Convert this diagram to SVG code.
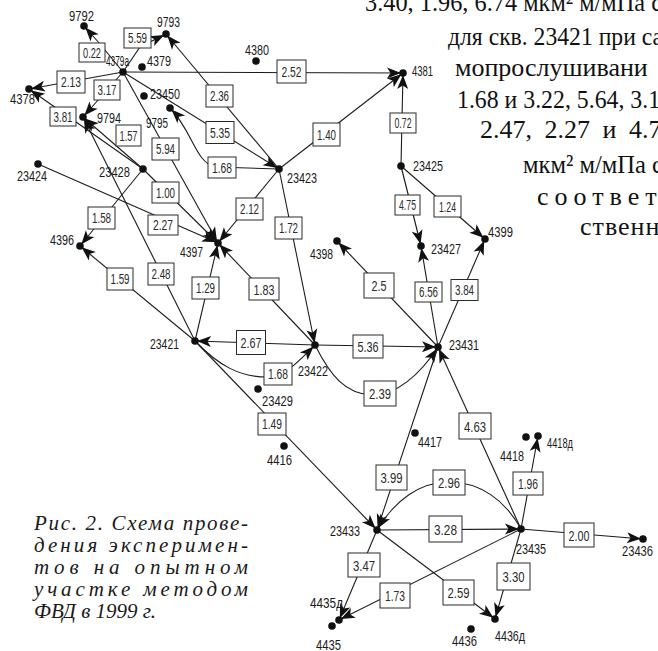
<svg xmlns="http://www.w3.org/2000/svg" width="658" height="651" viewBox="0 0 658 651">
<defs>
<style>
.e{fill:none;stroke:#1c1c1c;stroke-width:1.1;marker-end:url(#ah)}
.b rect{fill:#fff;stroke:#2a2a2a;stroke-width:1}
.b text{font-family:"Liberation Sans",Arial,sans-serif;font-size:14px;fill:#2a2a2a;text-anchor:middle}
.b .L{font-size:15px}
.n circle{fill:#111}
.n text{font-family:"Liberation Sans",Arial,sans-serif;font-size:15px;fill:#1a1a1a}
.t{font-family:"Liberation Serif","Times New Roman",serif;font-size:26px;fill:#111}
.c{font-family:"Liberation Serif","Times New Roman",serif;font-style:italic;font-size:21px;fill:#1a1a1a}
</style>
<marker id="ah" viewBox="0 0 17 12" refX="17" refY="6" markerWidth="17" markerHeight="12" markerUnits="userSpaceOnUse" orient="auto"><path d="M1,0.5 L15,6 L1,11.5 L4.5,6 z" fill="#111"/></marker>
</defs>
<rect width="658" height="651" fill="#fff"/>

<g id="article-text">
<text class="t" x="365" y="11" textLength="297" lengthAdjust="spacingAndGlyphs">3.40, 1.96, 6.74 мкм² м/мПа с</text>
<text class="t" x="448" y="45" textLength="215" lengthAdjust="spacingAndGlyphs">для скв. 23421 при са</text>
<text class="t" x="455" y="76">мопрослушивани</text>
<text class="t" x="457" y="108" textLength="215" lengthAdjust="spacingAndGlyphs">1.68 и 3.22, 5.64, 3.17</text>
<text class="t" x="480" y="138" word-spacing="6">2.47, 2.27 и 4.7</text>
<text class="t" x="523" y="173" textLength="140" lengthAdjust="spacingAndGlyphs">мкм² м/мПа с</text>
<text class="t" x="537" y="205" letter-spacing="6">соответ</text>
<text class="t" x="580" y="235" letter-spacing="1">ственно</text>
</g>

<g id="caption">
<text class="c" x="34" y="530" textLength="214" lengthAdjust="spacing">Рис. 2. Схема прове-</text>
<text class="c" x="34" y="552" textLength="214" lengthAdjust="spacing">дения эксперимен-</text>
<text class="c" x="34" y="574" textLength="214" lengthAdjust="spacing">тов на опытном</text>
<text class="c" x="34" y="596" textLength="214" lengthAdjust="spacing">участке методом</text>
<text class="c" x="34" y="618">ФВД в 1999 г.</text>
</g>

<g id="connectors">
<path class="e" d="M123,72 L100,44 L84,26"/>
<path class="e" d="M123,72 L140,47 L166,34"/>
<path class="e" d="M123,72 L29,89"/>
<path class="e" d="M123,72 L83,117"/>
<path class="e" d="M123,72 L403,73"/>
<path class="e" d="M123,72 L218,243"/>
<path class="e" d="M123,72 L279,169"/>
<path class="e" d="M279,169 L166,34"/>
<path class="e" d="M279,169 L215,167 C195,162 192,130 170,108"/>
<path class="e" d="M279,169 L403,73"/>
<path class="e" d="M279,169 L218,243"/>
<path class="e" d="M279,169 L315,345"/>
<path class="e" d="M143,169 L29,89"/>
<path class="e" d="M143,169 L83,117"/>
<path class="e" d="M143,169 L218,243"/>
<path class="e" d="M143,169 L80,246"/>
<path class="e" d="M38,164 L218,243"/>
<path class="e" d="M195,341 L80,246"/>
<path class="e" d="M195,341 L83,117"/>
<path class="e" d="M195,341 L218,243"/>
<path class="e" d="M315,345 L218,243"/>
<path class="e" d="M315,345 L195,341"/>
<path class="e" d="M195,341 C218,365 240,378 270,377 C285,376 300,360 315,345"/>
<path class="e" d="M195,341 L377,530"/>
<path class="e" d="M315,345 L438,347"/>
<path class="e" d="M315,345 C330,375 345,394 372,395 C395,396 420,375 438,347"/>
<path class="e" d="M438,347 L337,241"/>
<path class="e" d="M438,347 L421,246"/>
<path class="e" d="M438,347 L485,239"/>
<path class="e" d="M401,166 L403,73"/>
<path class="e" d="M401,166 L421,246"/>
<path class="e" d="M401,166 L485,239"/>
<path class="e" d="M438,347 L377,530"/>
<path class="e" d="M521,529 L438,347"/>
<path class="e" d="M521,529 C505,500 480,482 449,482 C420,482 395,500 377,530"/>
<path class="e" d="M377,530 L521,529"/>
<path class="e" d="M521,529 L538,436"/>
<path class="e" d="M521,529 L643,539"/>
<path class="e" d="M377,530 L339,620"/>
<path class="e" d="M521,529 L339,620"/>
<path class="e" d="M377,530 L495,619"/>
<path class="e" d="M521,529 L495,619"/>
</g>

<g id="connector-labels">
<g class="b"><rect x="79" y="43" width="26" height="19"/><text x="92" y="57.5" textLength="18" lengthAdjust="spacingAndGlyphs">0.22</text></g>
<g class="b"><rect x="124" y="28" width="27" height="20"/><text x="137.5" y="43" textLength="19" lengthAdjust="spacingAndGlyphs">5.59</text></g>
<g class="b"><rect x="57" y="71" width="28" height="22"/><text x="71" y="87" textLength="20" lengthAdjust="spacingAndGlyphs">2.13</text></g>
<g class="b"><rect x="94" y="80" width="26" height="20"/><text x="107" y="95" textLength="19" lengthAdjust="spacingAndGlyphs">3.17</text></g>
<g class="b"><rect x="50" y="107" width="26" height="19"/><text x="63" y="121.5" textLength="19" lengthAdjust="spacingAndGlyphs">3.81</text></g>
<g class="b"><rect x="116" y="125" width="25" height="21"/><text x="128.5" y="140.5" textLength="18" lengthAdjust="spacingAndGlyphs">1.57</text></g>
<g class="b"><rect x="152" y="138" width="27" height="22"/><text x="165.5" y="154" textLength="19" lengthAdjust="spacingAndGlyphs">5.94</text></g>
<g class="b"><rect x="206" y="85" width="27" height="22"/><text x="219.5" y="101" textLength="19" lengthAdjust="spacingAndGlyphs">2.36</text></g>
<g class="b"><rect x="206" y="121.5" width="28" height="22"/><text x="220" y="137.5" textLength="20" lengthAdjust="spacingAndGlyphs">5.35</text></g>
<g class="b"><rect x="208" y="157" width="28" height="21"/><text x="222" y="172.5" textLength="20" lengthAdjust="spacingAndGlyphs">1.68</text></g>
<g class="b"><rect x="277" y="60" width="29" height="23"/><text x="291.5" y="76.5" textLength="20" lengthAdjust="spacingAndGlyphs">2.52</text></g>
<g class="b"><rect x="313" y="123" width="27" height="23"/><text x="326.5" y="139.5" textLength="19" lengthAdjust="spacingAndGlyphs">1.40</text></g>
<g class="b"><rect x="390" y="113" width="26" height="20"/><text x="403" y="128" textLength="17" lengthAdjust="spacingAndGlyphs">0.72</text></g>
<g class="b"><rect x="395" y="195" width="25" height="20"/><text x="407.5" y="210" textLength="17" lengthAdjust="spacingAndGlyphs">4.75</text></g>
<g class="b"><rect x="434" y="196" width="27" height="21"/><text x="447.5" y="211.5" textLength="17" lengthAdjust="spacingAndGlyphs">1.24</text></g>
<g class="b"><rect x="415" y="282" width="27" height="20"/><text x="428.5" y="297" textLength="19" lengthAdjust="spacingAndGlyphs">6.56</text></g>
<g class="b"><rect x="451" y="279.5" width="27" height="21"/><text x="464.5" y="295" textLength="19" lengthAdjust="spacingAndGlyphs">3.84</text></g>
<g class="b"><rect x="364" y="273" width="30" height="25"/><text class="L" x="379" y="291" textLength="15" lengthAdjust="spacingAndGlyphs">2.5</text></g>
<g class="b"><rect x="236" y="198" width="27" height="22"/><text x="249.5" y="214" textLength="19" lengthAdjust="spacingAndGlyphs">2.12</text></g>
<g class="b"><rect x="275" y="217" width="27" height="22"/><text x="288.5" y="233" textLength="19" lengthAdjust="spacingAndGlyphs">1.72</text></g>
<g class="b"><rect x="249" y="278" width="30" height="22"/><text class="L" x="264" y="294.5" textLength="21" lengthAdjust="spacingAndGlyphs">1.83</text></g>
<g class="b"><rect x="192" y="277" width="27" height="22"/><text x="205.5" y="293" textLength="19" lengthAdjust="spacingAndGlyphs">1.29</text></g>
<g class="b"><rect x="148" y="215" width="30" height="20"/><text x="163" y="230" textLength="20" lengthAdjust="spacingAndGlyphs">2.27</text></g>
<g class="b"><rect x="152" y="182" width="27" height="21"/><text x="165.5" y="197.5" textLength="19" lengthAdjust="spacingAndGlyphs">1.00</text></g>
<g class="b"><rect x="88" y="207" width="27" height="22"/><text x="101.5" y="223" textLength="19" lengthAdjust="spacingAndGlyphs">1.58</text></g>
<g class="b"><rect x="107" y="268" width="26" height="22"/><text x="120" y="284" textLength="19" lengthAdjust="spacingAndGlyphs">1.59</text></g>
<g class="b"><rect x="148" y="263" width="26" height="22"/><text x="161" y="279" textLength="19" lengthAdjust="spacingAndGlyphs">2.48</text></g>
<g class="b"><rect x="236.5" y="330.5" width="29" height="24"/><text class="L" x="251" y="348" textLength="21" lengthAdjust="spacingAndGlyphs">2.67</text></g>
<g class="b"><rect x="353" y="335" width="30" height="23"/><text class="L" x="368" y="352" textLength="21" lengthAdjust="spacingAndGlyphs">5.36</text></g>
<g class="b"><rect x="264" y="363" width="28" height="22"/><text x="278" y="379" textLength="20" lengthAdjust="spacingAndGlyphs">1.68</text></g>
<g class="b"><rect x="364" y="381" width="32" height="25"/><text class="L" x="380" y="399" textLength="22" lengthAdjust="spacingAndGlyphs">2.39</text></g>
<g class="b"><rect x="258" y="413" width="28" height="22"/><text x="272" y="429" textLength="20" lengthAdjust="spacingAndGlyphs">1.49</text></g>
<g class="b"><rect x="459" y="413" width="32" height="26"/><text class="L" x="475" y="431.5" textLength="22" lengthAdjust="spacingAndGlyphs">4.63</text></g>
<g class="b"><rect x="376" y="465" width="31" height="25"/><text class="L" x="391.5" y="483" textLength="22" lengthAdjust="spacingAndGlyphs">3.99</text></g>
<g class="b"><rect x="433" y="470" width="32" height="25"/><text class="L" x="449" y="488" textLength="22" lengthAdjust="spacingAndGlyphs">2.96</text></g>
<g class="b"><rect x="513" y="472" width="30" height="23"/><text class="L" x="528" y="489" textLength="20" lengthAdjust="spacingAndGlyphs">1.96</text></g>
<g class="b"><rect x="429" y="516" width="33" height="26"/><text class="L" x="445.5" y="534.5" textLength="23" lengthAdjust="spacingAndGlyphs">3.28</text></g>
<g class="b"><rect x="564" y="523" width="30" height="24"/><text class="L" x="579" y="540.5" textLength="21" lengthAdjust="spacingAndGlyphs">2.00</text></g>
<g class="b"><rect x="348" y="553" width="32" height="24"/><text class="L" x="364" y="570.5" textLength="22" lengthAdjust="spacingAndGlyphs">3.47</text></g>
<g class="b"><rect x="380" y="583" width="30" height="25"/><text class="L" x="395" y="601" textLength="20" lengthAdjust="spacingAndGlyphs">1.73</text></g>
<g class="b"><rect x="443" y="580" width="31" height="25"/><text class="L" x="458.5" y="598" textLength="22" lengthAdjust="spacingAndGlyphs">2.59</text></g>
<g class="b"><rect x="497" y="563" width="33" height="27"/><text class="L" x="513.5" y="582" textLength="22" lengthAdjust="spacingAndGlyphs">3.30</text></g>
</g>

<g id="nodes">
<g id="n9792" class="n"><circle cx="84" cy="26" r="3.8"/><text x="69" y="21" textLength="25" lengthAdjust="spacingAndGlyphs">9792</text></g>
<g id="n9793" class="n"><circle cx="166" cy="34" r="3.8"/><text x="157" y="27" textLength="23" lengthAdjust="spacingAndGlyphs">9793</text></g>
<g id="n4379a" class="n"><circle cx="123" cy="72" r="3.8"/><text x="106" y="66" textLength="23" lengthAdjust="spacingAndGlyphs">4379a</text></g>
<g id="n4379" class="n"><circle cx="142" cy="67" r="3.8"/><text x="147" y="66" textLength="24" lengthAdjust="spacingAndGlyphs">4379</text></g>
<g id="n4378" class="n"><circle cx="29" cy="89" r="3.8"/><text x="10" y="104" textLength="25" lengthAdjust="spacingAndGlyphs">4378</text></g>
<g id="n23450" class="n"><circle cx="144" cy="96" r="3.8"/><text x="150" y="99" textLength="30" lengthAdjust="spacingAndGlyphs">23450</text></g>
<g id="n9795" class="n"><circle cx="170" cy="108" r="3.8"/><text x="146" y="128" textLength="22" lengthAdjust="spacingAndGlyphs">9795</text></g>
<g id="n9794" class="n"><circle cx="83" cy="117" r="3.8"/><text x="97" y="123" textLength="24" lengthAdjust="spacingAndGlyphs">9794</text></g>
<g id="n4380" class="n"><circle cx="256" cy="61" r="3.8"/><text x="245" y="55" textLength="24" lengthAdjust="spacingAndGlyphs">4380</text></g>
<g id="n4381" class="n"><circle cx="403" cy="73" r="3.8"/><text x="412" y="76" textLength="21" lengthAdjust="spacingAndGlyphs">4381</text></g>
<g id="n23423" class="n"><circle cx="279" cy="169" r="3.8"/><text x="287" y="183" textLength="30" lengthAdjust="spacingAndGlyphs">23423</text></g>
<g id="n23425" class="n"><circle cx="401" cy="166" r="3.8"/><text x="413" y="171" textLength="30" lengthAdjust="spacingAndGlyphs">23425</text></g>
<g id="n23424" class="n"><circle cx="38" cy="164" r="3.8"/><text x="17" y="181" textLength="30" lengthAdjust="spacingAndGlyphs">23424</text></g>
<g id="n23428" class="n"><circle cx="143" cy="169" r="3.8"/><text x="99" y="177" textLength="31" lengthAdjust="spacingAndGlyphs">23428</text></g>
<g id="n4397" class="n"><circle cx="218" cy="243" r="3.8"/><text x="180" y="257" textLength="23" lengthAdjust="spacingAndGlyphs">4397</text></g>
<g id="n4396" class="n"><circle cx="80" cy="246" r="3.8"/><text x="50" y="245" textLength="24" lengthAdjust="spacingAndGlyphs">4396</text></g>
<g id="n4398" class="n"><circle cx="337" cy="241" r="3.8"/><text x="310" y="259" textLength="23" lengthAdjust="spacingAndGlyphs">4398</text></g>
<g id="n23427" class="n"><circle cx="421" cy="246" r="3.8"/><text x="431" y="254" textLength="30" lengthAdjust="spacingAndGlyphs">23427</text></g>
<g id="n4399" class="n"><circle cx="485" cy="239" r="3.8"/><text x="488" y="237" textLength="25" lengthAdjust="spacingAndGlyphs">4399</text></g>
<g id="n23421" class="n"><circle cx="195" cy="341" r="3.8"/><text x="150" y="349" textLength="29" lengthAdjust="spacingAndGlyphs">23421</text></g>
<g id="n23422" class="n"><circle cx="315" cy="345" r="3.8"/><text x="298" y="376" textLength="30" lengthAdjust="spacingAndGlyphs">23422</text></g>
<g id="n23431" class="n"><circle cx="438" cy="347" r="3.8"/><text x="449" y="350" textLength="30" lengthAdjust="spacingAndGlyphs">23431</text></g>
<g id="n23429" class="n"><circle cx="258" cy="389" r="3.8"/><text x="262" y="406" textLength="31" lengthAdjust="spacingAndGlyphs">23429</text></g>
<g id="n4417" class="n"><circle cx="415" cy="433" r="3.8"/><text x="418" y="447" textLength="24" lengthAdjust="spacingAndGlyphs">4417</text></g>
<g id="n4416" class="n"><circle cx="284" cy="446" r="3.8"/><text x="267" y="465" textLength="25" lengthAdjust="spacingAndGlyphs">4416</text></g>
<g id="n4418" class="n"><circle cx="526" cy="437" r="3.8"/><text x="500" y="461" textLength="24" lengthAdjust="spacingAndGlyphs">4418</text></g>
<g id="n4418d" class="n"><circle cx="538" cy="436" r="3.8"/><text x="547" y="448" textLength="26" lengthAdjust="spacingAndGlyphs">4418д</text></g>
<g id="n23433" class="n"><circle cx="377" cy="530" r="3.8"/><text x="330" y="536" textLength="30" lengthAdjust="spacingAndGlyphs">23433</text></g>
<g id="n23435" class="n"><circle cx="521" cy="529" r="3.8"/><text x="516" y="554" textLength="30" lengthAdjust="spacingAndGlyphs">23435</text></g>
<g id="n23436" class="n"><circle cx="643" cy="539" r="3.8"/><text x="622" y="556" textLength="31" lengthAdjust="spacingAndGlyphs">23436</text></g>
<g id="n4435d" class="n"><circle cx="339" cy="620" r="3.8"/><text x="310" y="608" textLength="33" lengthAdjust="spacingAndGlyphs">4435д</text></g>
<g id="n4435" class="n"><circle cx="332" cy="626" r="3.8"/><text x="316" y="650" textLength="25" lengthAdjust="spacingAndGlyphs">4435</text></g>
<g id="n4436d" class="n"><circle cx="495" cy="619" r="3.8"/><text x="495" y="641" textLength="30" lengthAdjust="spacingAndGlyphs">4436д</text></g>
<g id="n4436" class="n"><circle cx="471" cy="629" r="3.8"/><text x="452" y="646" textLength="25" lengthAdjust="spacingAndGlyphs">4436</text></g>
</g>
</svg>
